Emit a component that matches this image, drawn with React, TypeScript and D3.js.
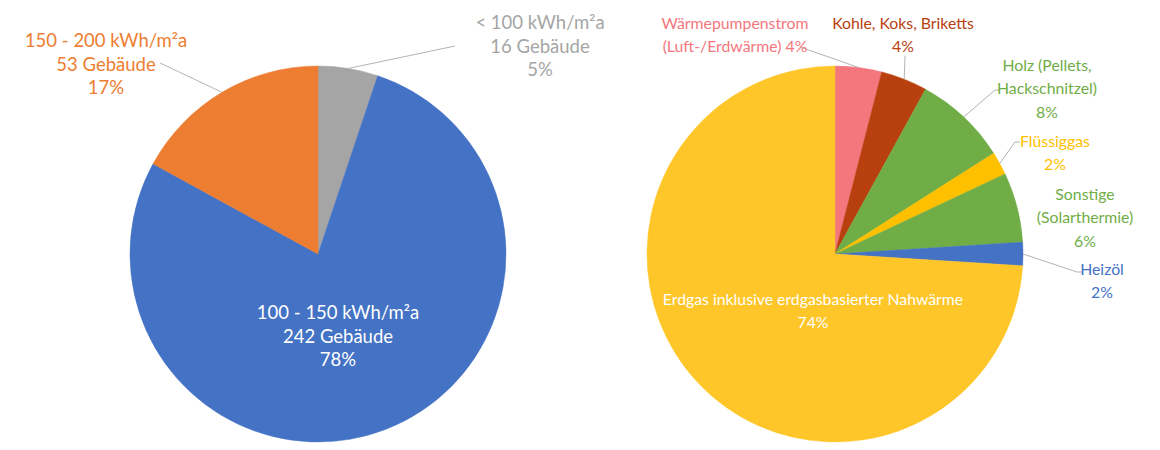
import React from "react";
import * as d3 from "d3";

// ---- Data ----
const leftCategories = ["< 100 kWh/m²a", "100 - 150 kWh/m²a", "150 - 200 kWh/m²a"];
const leftCounts = [16, 242, 53];
const leftPercents = ["5%", "78%", "17%"];

const rightCategories = [
  "Wärmepumpenstrom (Luft-/Erdwärme)",
  "Kohle, Koks, Briketts",
  "Holz (Pellets, Hackschnitzel)",
  "Flüssiggas",
  "Sonstige (Solarthermie)",
  "Heizöl",
  "Erdgas inklusive erdgasbasierter Nahwärme",
];
const rightValues = [4, 4, 8, 2, 6, 2, 74];

// ---- Styles / layout ----
const leftColors = ["#A5A5A5", "#4472C4", "#ED7D31"];
const leftTextColors = ["#A5A5A5", "#FFFFFF", "#ED7D31"];
const rightColors = ["#F4777D", "#B8400F", "#70AD47", "#FFC000", "#70AD47", "#4472C4", "#FFC629"];
const rightTextColors = ["#F4777D", "#B8400F", "#70AD47", "#FFC000", "#70AD47", "#4472C4", "#FFFFFF"];

const R = 188;
const leftCenter = { x: 318, y: 254 };
const rightCenter = { x: 835, y: 254 };
const FONT = "Lato, 'Open Sans', sans-serif";
const LH = 23.5;

type Lab = { lines: string[]; x: number; y: number; leader?: [number, number] | null; tick?: number };

const leftLabels: Lab[] = [
  { lines: ["< 100 kWh/m²a", "16 Gebäude", "5%"], x: 540, y: 22, leader: [455, 46] },
  { lines: ["100 - 150 kWh/m²a", "242 Gebäude", "78%"], x: 338, y: 312, leader: null },
  { lines: ["150 - 200 kWh/m²a", "53 Gebäude", "17%"], x: 106, y: 40, leader: [160, 63] },
];

const rightLabels: Lab[] = [
  { lines: ["Wärmepumpenstrom", "(Luft-/Erdwärme) 4%"], x: 735, y: 22, leader: [800, 47] },
  { lines: ["Kohle, Koks, Briketts", "4%"], x: 903, y: 22, leader: [905, 56] },
  { lines: ["Holz (Pellets,", "Hackschnitzel)", "8%"], x: 1047, y: 64, leader: [1000, 90], tick: 5 },
  { lines: ["Flüssiggas", "2%"], x: 1055, y: 140, leader: [1020, 142], tick: 5 },
  { lines: ["Sonstige", "(Solarthermie)", "6%"], x: 1085, y: 193, leader: null },
  { lines: ["Heizöl", "2%"], x: 1102, y: 268, leader: [1082, 272], tick: 5 },
  { lines: ["Erdgas inklusive erdgasbasierter Nahwärme", "74%"], x: 813, y: 298, leader: null },
];

function Pie({ values, colors, textColors, labels, center, fs }: {
  values: number[]; colors: string[]; textColors: string[]; labels: Lab[]; center: { x: number; y: number }; fs: number;
}) {
  const pie = d3.pie<number>().sort(null).value((d) => d)(values);
  const arc = d3.arc<d3.PieArcDatum<number>>().innerRadius(0).outerRadius(R);
  return (
    <g>
      <g transform={`translate(${center.x},${center.y})`}>
        {pie.map((p, i) => (
          <path key={i} d={arc(p) || ""} fill={colors[i]} stroke={colors[i]} strokeWidth={0.5} />
        ))}
      </g>
      {pie.map((p, i) => {
        const lab = labels[i];
        const mid = (p.startAngle + p.endAngle) / 2;
        const ex = center.x + R * Math.sin(mid);
        const ey = center.y - R * Math.cos(mid);
        let leader = null;
        if (lab.leader) {
          const [sx, sy] = lab.leader;
          const pts: [number, number][] = lab.tick ? [[sx, sy], [sx - lab.tick, sy], [ex, ey]] : [[sx, sy], [ex, ey]];
          leader = <path d={d3.line()(pts) || ""} fill="none" stroke="#B4B4B4" strokeWidth={1} />;
        }
        return (
          <g key={i}>
            {leader}
            <text x={lab.x} y={lab.y} fill={textColors[i]} fontFamily={FONT} fontSize={fs} textAnchor="middle">
              {lab.lines.map((l, j) => (
                <tspan key={j} x={lab.x} y={lab.y + j * LH} dominantBaseline="central">{l}</tspan>
              ))}
            </text>
          </g>
        );
      })}
    </g>
  );
}

export default function App() {
  return (
    <svg width={1160} height={450} style={{ position: "absolute", left: 0, top: 0, background: "#fff" }}>
      <rect width={1160} height={450} fill="#fff" />
      <Pie values={leftCounts} colors={leftColors} textColors={leftTextColors} labels={leftLabels} center={leftCenter} fs={18.5} />
      <Pie values={rightValues} colors={rightColors} textColors={rightTextColors} labels={rightLabels} center={rightCenter} fs={15.8} />
    </svg>
  );
}
